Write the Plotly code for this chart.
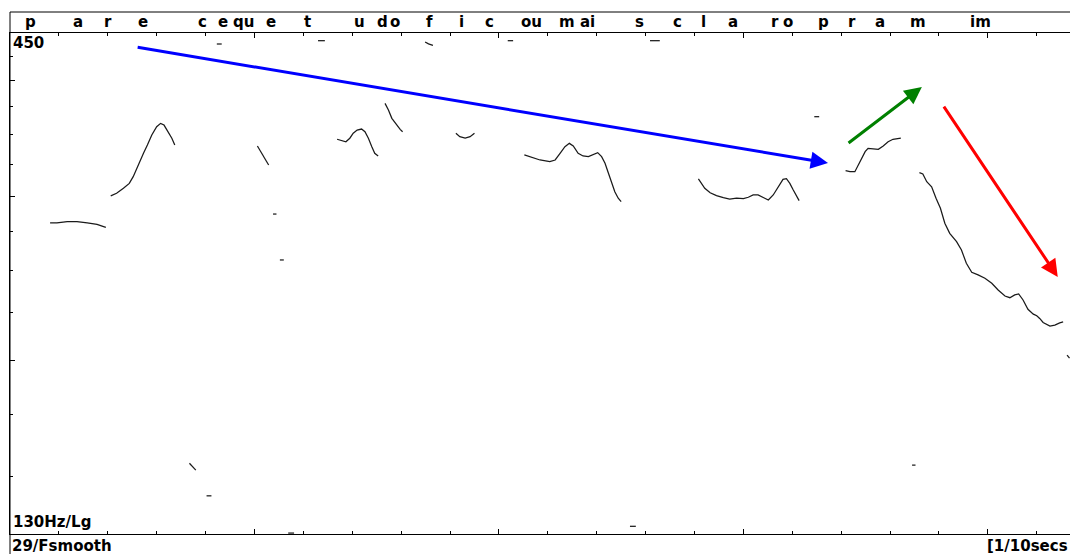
import math
import plotly.graph_objects as go

# Time axis in tenths of a second, pitch in Hz on a log scale (130-450 Hz)
T_MAX = 21.68
HZ_MIN, HZ_MAX = 130, 450

# Phonetic segmentation shown above the pitch track
phon_labels = ["p", "a", "r", "e", "c", "e", "qu", "e", "t", "u", "d", "o", "f", "i", "c",
               "ou", "m", "ai", "s", "c", "l", "a", "r", "o", "p", "r", "a", "m", "im"]
phon_t = [0.41, 1.39, 2.00, 2.72, 3.93, 4.36, 4.77, 5.34, 6.09, 7.14, 7.61, 7.87, 8.57, 9.24, 9.80,
          10.67, 11.39, 11.82, 12.88, 13.66, 14.19, 14.79, 15.64, 15.91, 16.63, 17.22, 17.79, 18.57, 19.84]

# Voiced stretches of the F0 contour
seg01_t = [0.82, 0.96, 1.17, 1.37, 1.58, 1.78, 1.96]
seg01_hz = [281, 281, 282, 282, 281, 280, 278]

seg02_t = [2.06, 2.18, 2.32, 2.44, 2.52, 2.59, 2.66, 2.73, 2.81, 2.90, 3.00, 3.08, 3.15, 3.24, 3.31, 3.37]
seg02_hz = [300.5, 302.5, 306.2, 310.0, 315.2, 321.8, 327.1, 334.0, 340.9, 349.5, 356.7, 359.7, 358.2, 352.3, 346.7, 340.9]

seg03_t = [5.06, 5.15, 5.22, 5.29]
seg03_hz = [340.1, 334.0, 328.5, 324.4]

seg04_t = [6.69, 6.78, 6.87, 6.95, 7.02, 7.10, 7.19, 7.26, 7.33, 7.40, 7.46, 7.53]
seg04_hz = [345.8, 344.6, 343.7, 346.7, 351.0, 353.8, 354.7, 352.3, 346.7, 339.5, 334.0, 331.8]

seg05_t = [7.67, 7.74, 7.81, 7.91, 7.98, 8.03]
seg05_hz = [378.0, 371.8, 364.2, 358.2, 354.4, 352.3]

seg06_t = [9.12, 9.20, 9.31, 9.41, 9.50]
seg06_hz = [351.0, 348.0, 346.7, 348.0, 351.0]

seg07_t = [10.52, 10.63, 10.84, 11.04, 11.15, 11.25, 11.35, 11.44, 11.52, 11.62, 11.72, 11.83, 11.93,
           12.02, 12.10, 12.17, 12.24, 12.31, 12.37, 12.44, 12.50]
seg07_hz = [332.6, 331.2, 328.5, 327.1, 328.5, 334.0, 339.5, 342.3, 340.1, 334.0, 331.8, 331.2, 333.2,
            334.5, 331.2, 325.8, 317.9, 310.0, 303.6, 298.8, 296.3]

seg08_t = [14.08, 14.15, 14.21, 14.32, 14.45, 14.59, 14.72, 14.86, 15.00, 15.10, 15.20, 15.30, 15.41,
           15.51, 15.61, 15.71, 15.81, 15.88, 15.95, 16.02, 16.09, 16.14]
seg08_hz = [313.4, 310.0, 306.2, 302.9, 300.7, 299.2, 298.2, 298.8, 298.5, 299.5, 301.2, 301.2, 299.5,
            297.5, 301.2, 307.4, 313.1, 313.6, 310.0, 304.9, 300.0, 297.0]

seg09_t = [17.09, 17.18, 17.28, 17.35, 17.42, 17.49, 17.55, 17.65, 17.76, 17.86, 17.96, 18.06, 18.17, 18.22]
seg09_hz = [319.9, 319.1, 319.1, 324.4, 329.9, 335.3, 338.1, 337.5, 337.3, 340.1, 343.7, 345.8, 346.7, 346.7]

seg10_t = [18.60, 18.67, 18.75, 18.85, 18.94, 19.03, 19.12, 19.22, 19.36, 19.46, 19.56, 19.67, 19.80,
           19.94, 20.08, 20.21, 20.35, 20.45, 20.55, 20.63, 20.72, 20.82, 20.93, 21.00, 21.06, 21.13,
           21.27, 21.37, 21.47, 21.54]
seg10_hz = [318.3, 317.3, 311.3, 307.4, 298.8, 291.4, 280.8, 273.9, 268.3, 262.8, 254.3, 248.7, 247.1,
            245.0, 242.0, 238.0, 234.5, 233.5, 235.1, 235.7, 232.2, 226.9, 224.2, 223.3, 221.8, 219.6,
            217.6, 218.2, 219.4, 219.9]

# Isolated short pitch estimates (None separates them)
blip_t = [4.23, 4.33, None, 6.30, 6.44, None, 8.49, 8.56, 8.65, None, 10.18, 10.29, None,
          13.09, 13.29, None, 5.38, 5.45, None, 5.52, 5.60, None, 3.67, 3.80, None,
          4.02, 4.12, None, 5.69, 5.81, None, 12.68, 12.80, None, 18.45, 18.52, None,
          16.45, 16.55, None, 21.62, 21.67]
blip_hz = [437.9, 437.9, None, 441.5, 441.5, None, 440.0, 438.0, 436.5, None, 441.5, 441.5, None,
           441.5, 441.5, None, 287.3, 287.3, None, 256.4, 256.4, None, 154.9, 152.3, None,
           142.9, 142.9, None, 130.3, 130.3, None, 132.5, 132.5, None, 154.2, 154.2, None,
           365.7, 365.7, None, 202.5, 201.0]

# Intonation trend arrows: (tail t, tail Hz, tip t, tip Hz, colour)
trend_blue = (2.58, 434.6, 16.73, 326.0, "#0000FF")
trend_green = (17.12, 341.7, 18.65, 393.6, "#008000")
trend_red = (19.08, 376.4, 21.43, 245.8, "#FF0000")

segments = [(seg01_t, seg01_hz), (seg02_t, seg02_hz), (seg03_t, seg03_hz), (seg04_t, seg04_hz),
            (seg05_t, seg05_hz), (seg06_t, seg06_hz), (seg07_t, seg07_hz), (seg08_t, seg08_hz),
            (seg09_t, seg09_hz), (seg10_t, seg10_hz), (blip_t, blip_hz)]

W, H = 1070, 554
ML, MT, MB = 10, 33, 20
plot_h = H - MT - MB


def py_to_paper(py):
    return (H - MB - py) / plot_h


fig = go.Figure()
for t, hz in segments:
    fig.add_trace(go.Scatter(x=t, y=hz, mode="lines", line=dict(color="#1a1a1a", width=1.25),
                             connectgaps=False, hoverinfo="skip", showlegend=False))

font = dict(family="DejaVu Sans", size=15, color="black", weight="bold")
annotations = []
for lab, t in zip(phon_labels, phon_t):
    annotations.append(dict(x=t, xref="x", y=py_to_paper(22), yref="paper", text=lab,
                            showarrow=False, font=font, xanchor="center", yanchor="middle"))

annotations += [
    dict(x=0, xref="paper", xshift=1, y=py_to_paper(43), yref="paper", text="450",
         showarrow=False, font=font, xanchor="left", yanchor="middle"),
    dict(x=0, xref="paper", xshift=1, y=py_to_paper(522), yref="paper", text="130Hz/Lg",
         showarrow=False, font=font, xanchor="left", yanchor="middle"),
    dict(x=0, xref="paper", xshift=0, y=py_to_paper(546), yref="paper", text="29/Fsmooth",
         showarrow=False, font=font, xanchor="left", yanchor="middle"),
    dict(x=1, xref="paper", xshift=0, y=py_to_paper(546), yref="paper", text="[1/10secs",
         showarrow=False, font=font, xanchor="right", yanchor="middle"),
]

for t0, f0, t1, f1, col in (trend_blue, trend_green, trend_red):
    annotations.append(dict(x=t1, y=math.log10(f1), xref="x", yref="y",
                            ax=t0, ay=math.log10(f0), axref="x", ayref="y",
                            text="", showarrow=True, arrowhead=2, arrowsize=1.15,
                            arrowwidth=3, arrowcolor=col, standoff=0))

shapes = [
    # outer frame: top rule and the full-height left rule
    dict(type="line", xref="paper", yref="paper", x0=0, x1=1, y0=py_to_paper(12), y1=py_to_paper(12),
         line=dict(color="black", width=1)),
    dict(type="line", xref="paper", yref="paper", x0=0, x1=0, y0=py_to_paper(H), y1=py_to_paper(12),
         line=dict(color="black", width=1)),
]

fig.update_layout(
    width=W, height=H,
    margin=dict(l=ML, r=0, t=MT, b=MB, autoexpand=False),
    paper_bgcolor="white", plot_bgcolor="white",
    showlegend=False,
    annotations=annotations,
    shapes=shapes,
    xaxis=dict(range=[0, T_MAX], showgrid=False, zeroline=False, showticklabels=False,
               showline=True, linecolor="black", linewidth=1, mirror="ticks",
               ticks="inside", tickmode="linear", tick0=0, dtick=5, ticklen=5, tickcolor="black",
               minor=dict(ticks="inside", tickmode="linear", tick0=0, dtick=1, ticklen=3,
                          tickcolor="black", showgrid=False)),
    yaxis=dict(type="log", range=[math.log10(HZ_MIN), math.log10(HZ_MAX)], showgrid=False,
               zeroline=False, showticklabels=False, showline=True, linecolor="black", linewidth=1,
               ticks="inside", tickmode="array", tickvals=[200, 300, 400], ticklen=5, tickcolor="black",
               minor=dict(ticks="inside", tickmode="array",
                          tickvals=[150, 175, 225, 250, 275, 325, 350, 375, 425],
                          ticklen=3, tickcolor="black", showgrid=False)),
)

fig.write_html("out.html")
